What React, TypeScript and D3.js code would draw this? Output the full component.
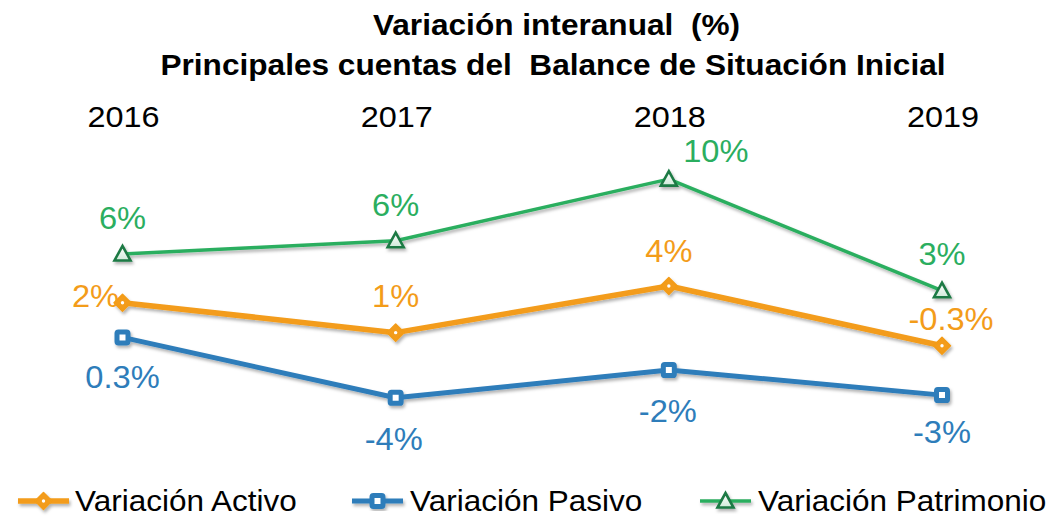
import React from 'react';
import * as d3 from 'd3';

const years = ['2016', '2017', '2018', '2019'];
const activo = [2.45, 0.55, 3.51, -0.28];
const pasivo = [0.25, -3.58, -1.82, -3.41];
const patrimonio = [5.54, 6.38, 10.28, 3.21];
const activoLabels = ['2%', '1%', '4%', '-0.3%'];
const pasivoLabels = ['0.3%', '-4%', '-2%', '-3%'];
const patrimonioLabels = ['6%', '6%', '10%', '3%'];
const seriesNames = ['Variación Activo', 'Variación Pasivo', 'Variación Patrimonio'];
const titleLines = ['Variación interanual  (%)', 'Principales cuentas del  Balance de Situación Inicial'];

const W = 1059;
const H = 518;
const FONT = "'Liberation Sans', Arial, sans-serif";

const C_ORANGE = '#F39C1A';
const C_BLUE = '#2E7DBA';
const C_GREEN = '#2BAE5F';
const C_GREEN_DARK = '#1E7A44';

type Marker = 'diamond' | 'square' | 'triangle';

function MarkerShape({ kind, x, y }: { kind: Marker; x: number; y: number }) {
  if (kind === 'diamond') {
    const r = 8.5;
    return (
      <g transform={`translate(${x},${y})`}>
        <path d={`M0,${-r}L${r},0L0,${r}L${-r},0Z`} fill={C_ORANGE} stroke={C_ORANGE} strokeWidth={1.5} strokeLinejoin="round" />
        <circle r={1.7} fill="#fff" />
      </g>
    );
  }
  if (kind === 'square') {
    const s = 11;
    return (
      <rect x={x - s / 2} y={y - s / 2} width={s} height={s} rx={1.4} fill="#fff" stroke={C_BLUE} strokeWidth={5} />
    );
  }
  return (
    <path
      d={`M${x},${y - 8}L${x + 8},${y + 6.5}L${x - 8},${y + 6.5}Z`}
      fill="url(#triFill)"
      stroke={C_GREEN_DARK}
      strokeWidth={2.6}
      strokeLinejoin="miter"
    />
  );
}

function SText({ x, y, sx, size, fill, anchor = 'middle', weight = 'normal', children }: any) {
  return (
    <g transform={`translate(${x},${y}) scale(${sx},1)`}>
      <text
        x={0}
        y={0}
        textAnchor={anchor}
        fontFamily={FONT}
        fontSize={size}
        fontWeight={weight}
        fill={fill}
        style={{ whiteSpace: 'pre' }}
      >
        {children}
      </text>
    </g>
  );
}

export default function App() {
  const x = d3.scalePoint<string>().domain(years).range([122.5, 942]).padding(0);
  const y = d3.scaleLinear().domain([-5, 11]).range([420.2, 167.8]);

  const line = d3
    .line<number>()
    .x((_, i) => x(years[i]) as number)
    .y((d) => y(d));

  const series = [
    { name: seriesNames[2], values: patrimonio, labels: patrimonioLabels, color: C_GREEN, width: 3.5, marker: 'triangle' as Marker,
      offsets: [[0, -25], [0, -25], [47, -17], [0, -26]] },
    { name: seriesNames[0], values: activo, labels: activoLabels, color: C_ORANGE, width: 5.5, marker: 'diamond' as Marker,
      offsets: [[-27, 4.5], [0, -26], [0, -24], [9, -16]] },
    { name: seriesNames[1], values: pasivo, labels: pasivoLabels, color: C_BLUE, width: 5, marker: 'square' as Marker,
      offsets: [[0, 51], [-2, 52], [-1, 52], [0, 48]] },
  ];

  const legend = [
    { name: seriesNames[0], color: C_ORANGE, width: 5.5, marker: 'diamond' as Marker, x0: 18, textX: 75 },
    { name: seriesNames[1], color: C_BLUE, width: 5, marker: 'square' as Marker, x0: 352, textX: 410 },
    { name: seriesNames[2], color: C_GREEN, width: 3.5, marker: 'triangle' as Marker, x0: 700, textX: 758 },
  ];

  return (
    <svg width={W} height={H} style={{ position: 'absolute', left: 0, top: 0, background: '#fff' }}>
      <defs>
        <filter id="shadow" x="-10%" y="-20%" width="120%" height="160%">
          <feDropShadow dx={1.5} dy={2.5} stdDeviation={1.4} floodColor="#000" floodOpacity={0.3} />
        </filter>
        <linearGradient id="triFill" x1="0" y1="0" x2="0" y2="1">
          <stop offset="0%" stopColor="#ffffff" />
          <stop offset="100%" stopColor="#cfead9" />
        </linearGradient>
      </defs>
      <rect width={W} height={H} fill="#fff" />

      {titleLines.map((t, i) => (
        <SText key={t} x={i === 0 ? 556.5 : 553} y={i === 0 ? 35 : 75} sx={1.09} size={29} weight="bold" fill="#000">
          {t}
        </SText>
      ))}

      {years.map((yr) => (
        <SText key={yr} x={(x(yr) as number) + 1} y={127} sx={1.08} size={30} fill="#000">
          {yr}
        </SText>
      ))}

      {series.map((s) => (
        <g key={s.name} filter="url(#shadow)">
          <path d={line(s.values) || ''} fill="none" stroke={s.color} strokeWidth={s.width} strokeLinejoin="round" strokeLinecap="round" />
          {s.values.map((v, i) => (
            <MarkerShape key={i} kind={s.marker} x={x(years[i]) as number} y={y(v)} />
          ))}
        </g>
      ))}

      {series.map((s) =>
        s.values.map((v, i) => (
          <SText
            key={s.name + i}
            x={(x(years[i]) as number) + s.offsets[i][0]}
            y={y(v) + s.offsets[i][1]}
            sx={1.07}
            size={30.5}
            fill={s.color}
          >
            {s.labels[i]}
          </SText>
        ))
      )}

      {legend.map((l) => (
        <g key={l.name}>
          <g filter="url(#shadow)">
            <line x1={l.x0} x2={l.x0 + 51} y1={501} y2={501} stroke={l.color} strokeWidth={l.width} />
            <MarkerShape kind={l.marker} x={l.x0 + 25.5} y={501} />
          </g>
          <SText x={l.textX} y={511} sx={1.05} size={30} fill="#000" anchor="start">
            {l.name}
          </SText>
        </g>
      ))}
    </svg>
  );
}
